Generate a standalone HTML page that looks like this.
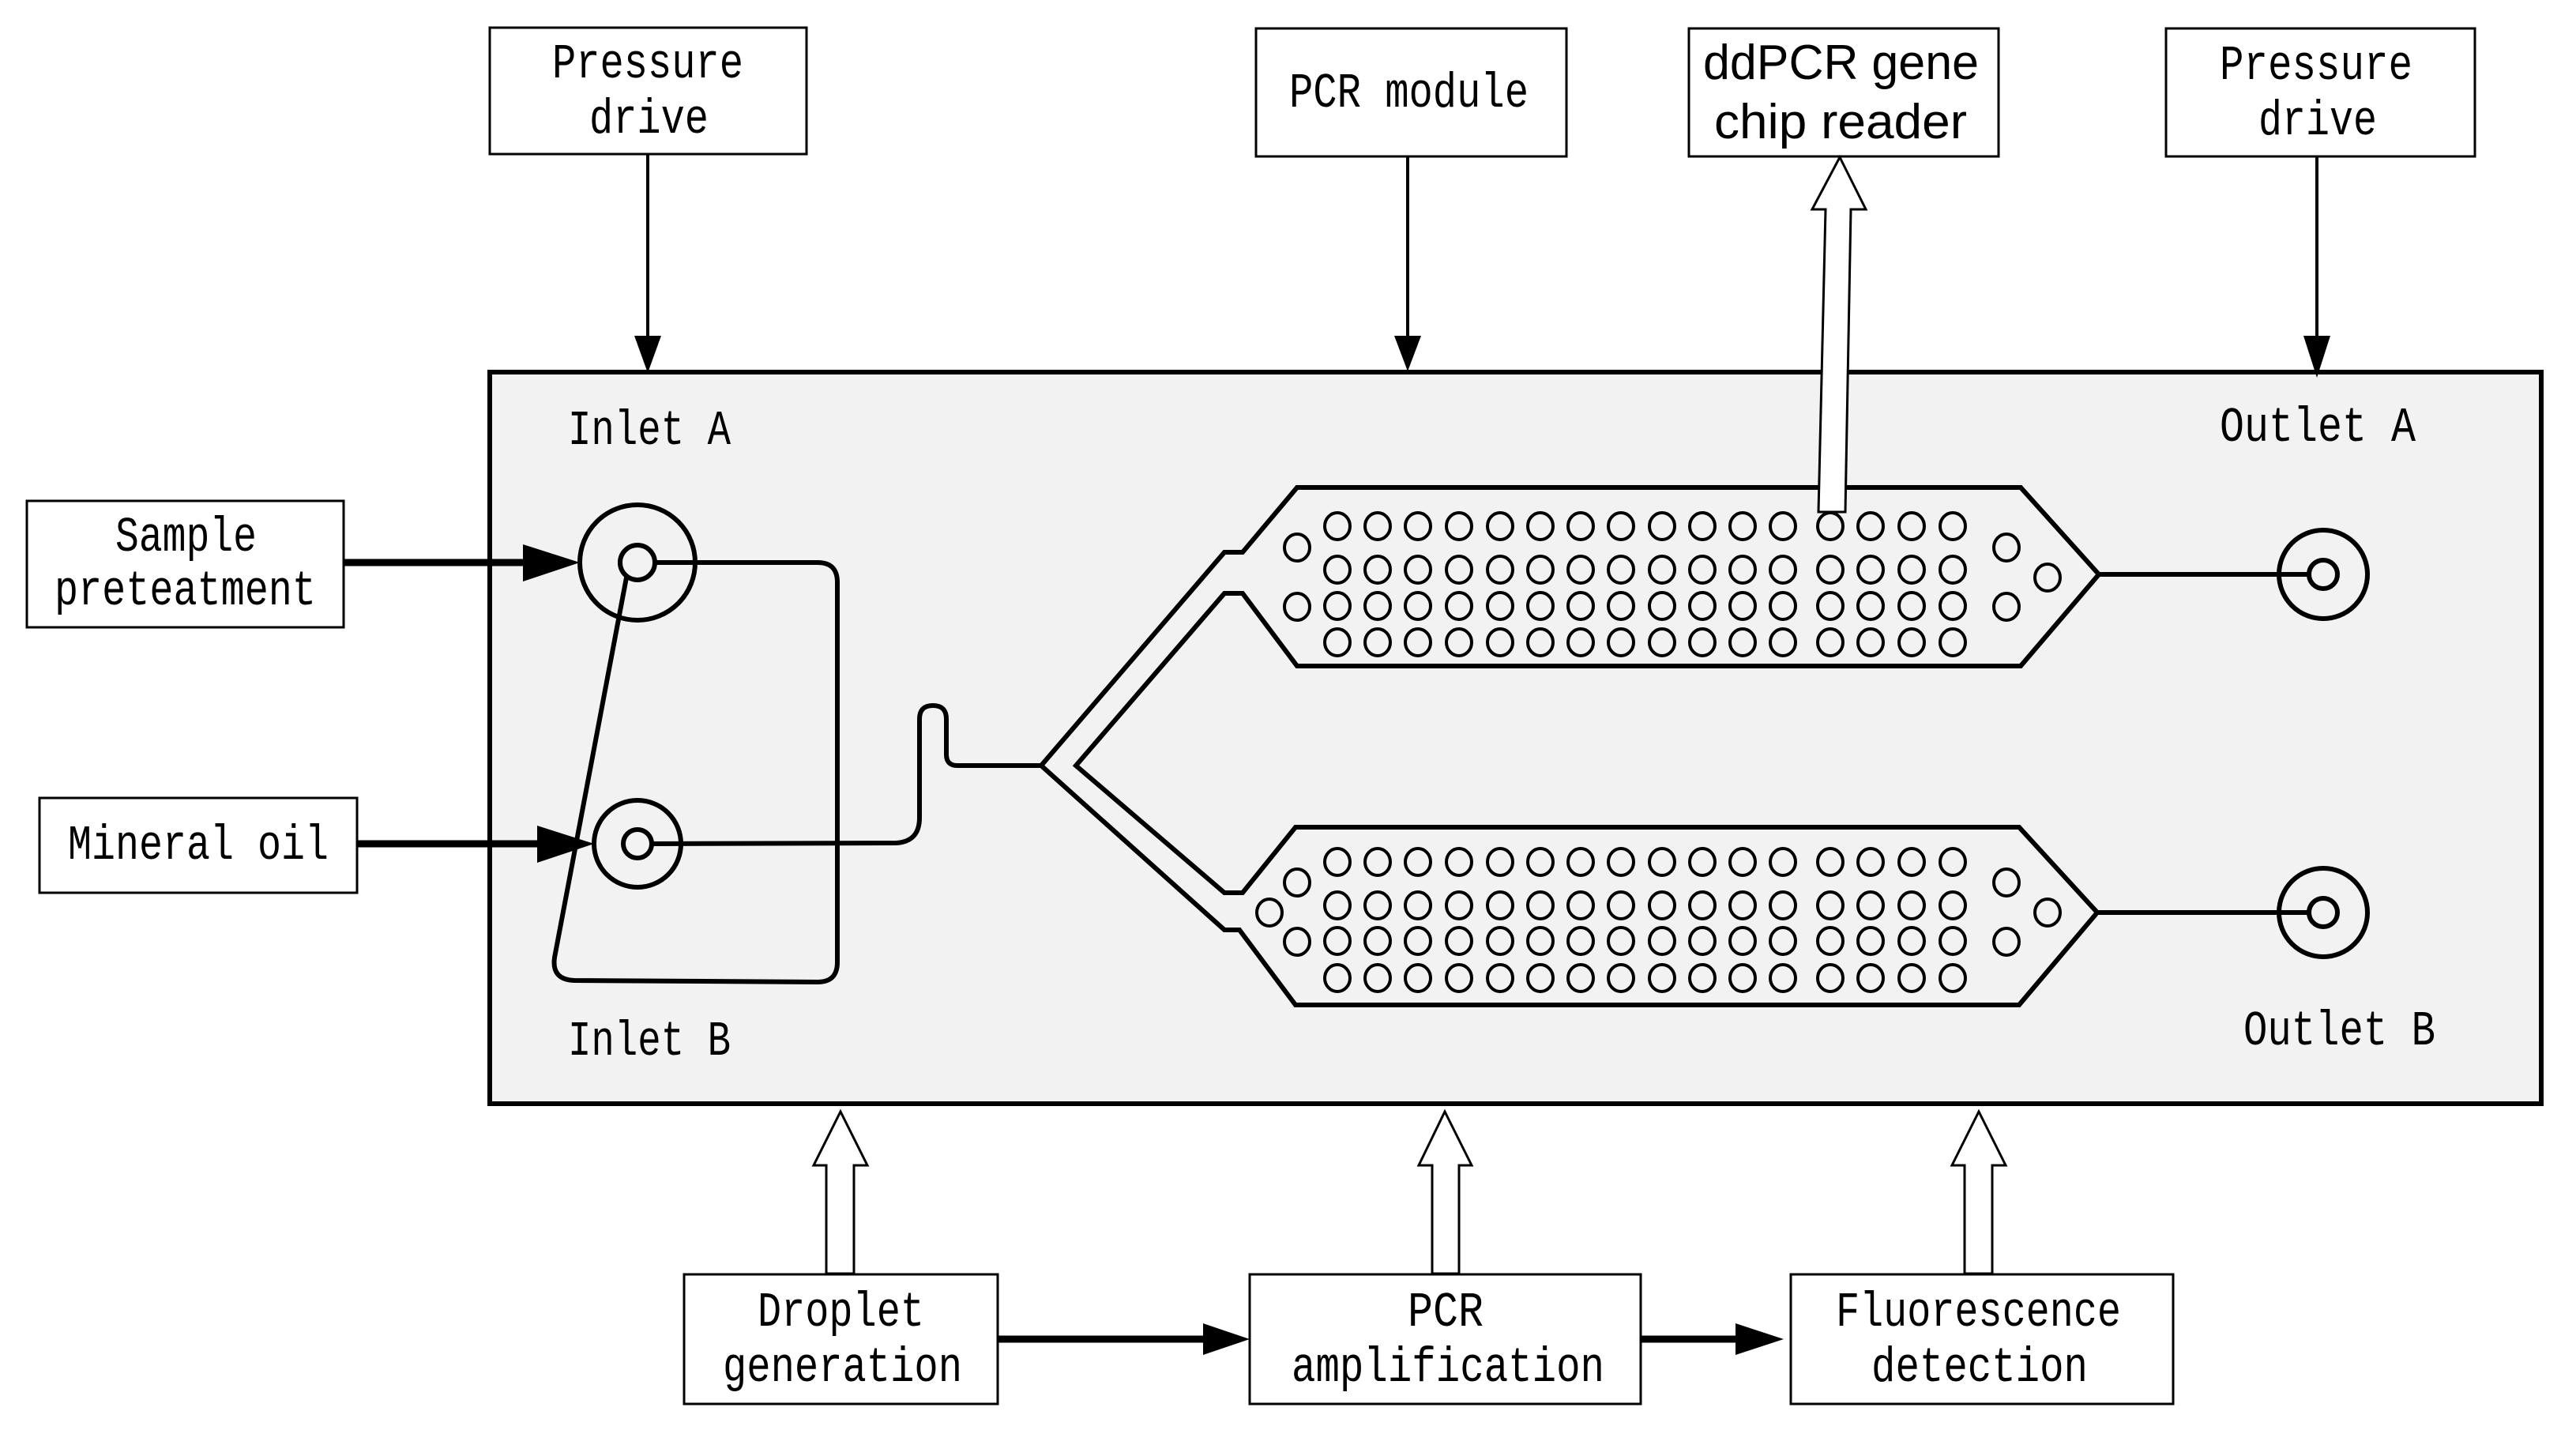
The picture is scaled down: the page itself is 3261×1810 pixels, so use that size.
<!DOCTYPE html>
<html><head><meta charset="utf-8"><style>
html,body{margin:0;padding:0;background:#fff;}
svg{display:block;}
text{font-family:"Liberation Mono",monospace;font-size:62px;fill:#000;}
.s{font-family:"Liberation Sans",sans-serif;}
</style></head><body>
<svg width="3261" height="1810" viewBox="0 0 3261 1810" xmlns="http://www.w3.org/2000/svg">
<defs>
<g id="row">
<ellipse cx="1693" cy="0" rx="16" ry="17"/><ellipse cx="1744" cy="0" rx="16" ry="17"/><ellipse cx="1795" cy="0" rx="16" ry="17"/><ellipse cx="1847" cy="0" rx="16" ry="17"/><ellipse cx="1899" cy="0" rx="16" ry="17"/><ellipse cx="1950" cy="0" rx="16" ry="17"/><ellipse cx="2001" cy="0" rx="16" ry="17"/><ellipse cx="2052" cy="0" rx="16" ry="17"/><ellipse cx="2104" cy="0" rx="16" ry="17"/><ellipse cx="2155" cy="0" rx="16" ry="17"/><ellipse cx="2206" cy="0" rx="16" ry="17"/><ellipse cx="2257" cy="0" rx="16" ry="17"/><ellipse cx="2317" cy="0" rx="16" ry="17"/><ellipse cx="2368" cy="0" rx="16" ry="17"/><ellipse cx="2420" cy="0" rx="16" ry="17"/><ellipse cx="2472" cy="0" rx="16" ry="17"/>
</g>
</defs>
<!-- main chip -->
<rect x="620" y="471" width="2597" height="926" fill="#f2f2f2" stroke="#000" stroke-width="6"/>

<!-- boxes -->
<g fill="#fff" stroke="#000" stroke-width="3">
<rect x="620" y="35" width="401" height="160"/>
<rect x="1590" y="36" width="393" height="162"/>
<rect x="2138" y="36" width="392" height="162"/>
<rect x="2742" y="36" width="391" height="162"/>
<rect x="34" y="634" width="401" height="160"/>
<rect x="50" y="1010" width="402" height="120"/>
<rect x="866" y="1613" width="397" height="164"/>
<rect x="1582" y="1613" width="495" height="164"/>
<rect x="2267" y="1613" width="484" height="164"/>
</g>

<!-- text -->
<text x="699" y="98" textLength="242" lengthAdjust="spacingAndGlyphs">Pressure</text>
<text x="746" y="168" textLength="151" lengthAdjust="spacingAndGlyphs">drive</text>
<text x="1632" y="135" textLength="303" lengthAdjust="spacingAndGlyphs">PCR module</text>
<text class="s" x="2156" y="100" textLength="349" lengthAdjust="spacingAndGlyphs" font-size="58">ddPCR gene</text>
<text class="s" x="2170" y="175" textLength="320" lengthAdjust="spacingAndGlyphs" font-size="58">chip reader</text>
<text x="2810" y="100" textLength="244" lengthAdjust="spacingAndGlyphs">Pressure</text>
<text x="2859" y="170" textLength="150" lengthAdjust="spacingAndGlyphs">drive</text>
<text x="146" y="697" textLength="179" lengthAdjust="spacingAndGlyphs">Sample</text>
<text x="69" y="765" textLength="331" lengthAdjust="spacingAndGlyphs">preteatment</text>
<text x="86" y="1087" textLength="330" lengthAdjust="spacingAndGlyphs">Mineral oil</text>
<text x="719" y="562" textLength="206" lengthAdjust="spacingAndGlyphs">Inlet A</text>
<text x="719" y="1335" textLength="206" lengthAdjust="spacingAndGlyphs">Inlet B</text>
<text x="2810" y="558" textLength="248" lengthAdjust="spacingAndGlyphs">Outlet A</text>
<text x="2840" y="1322" textLength="243" lengthAdjust="spacingAndGlyphs">Outlet B</text>
<text x="959" y="1678" textLength="211" lengthAdjust="spacingAndGlyphs">Droplet</text>
<text x="915" y="1748" textLength="303" lengthAdjust="spacingAndGlyphs">generation</text>
<text x="1782" y="1678" textLength="96" lengthAdjust="spacingAndGlyphs">PCR</text>
<text x="1635" y="1748" textLength="396" lengthAdjust="spacingAndGlyphs">amplification</text>
<text x="2324" y="1678" textLength="361" lengthAdjust="spacingAndGlyphs">Fluorescence</text>
<text x="2369" y="1748" textLength="274" lengthAdjust="spacingAndGlyphs">detection</text>

<!-- thin down arrows -->
<g stroke="#000" stroke-width="4">
<line x1="820" y1="195" x2="820" y2="430"/>
<line x1="1782" y1="198" x2="1782" y2="430"/>
<line x1="2933" y1="198" x2="2933" y2="430"/>
</g>
<g fill="#000">
<polygon points="803,425 837,425 820,472"/>
<polygon points="1765,425 1799,425 1782,470"/>
<polygon points="2916,425 2950,425 2933,478"/>
</g>

<!-- thick input arrows -->
<g stroke="#000" stroke-width="9">
<line x1="435" y1="712" x2="670" y2="712"/>
<line x1="452" y1="1068" x2="690" y2="1068"/>
<line x1="1263" y1="1695" x2="1530" y2="1695"/>
<line x1="2077" y1="1695" x2="2205" y2="1695"/>
</g>
<g fill="#000">
<polygon points="662,689 734,712 662,736"/>
<polygon points="680,1045 752,1068 680,1092"/>
<polygon points="1523,1675 1582,1695 1523,1715"/>
<polygon points="2197,1675 2258,1695 2197,1715"/>
</g>

<!-- inlets & channels -->
<g fill="none" stroke="#000" stroke-width="6" stroke-linejoin="miter">
<circle cx="807" cy="712" r="73"/>
<circle cx="807" cy="712" r="22"/>
<circle cx="807" cy="1068" r="55"/>
<circle cx="807" cy="1068" r="18"/>
<path d="M829,712 L1035,712 Q1060,712 1060,737 L1060,1218 Q1060,1243 1035,1243 L727,1241 Q698,1240 702,1212 L793,731"/>
<path d="M825,1068 L1135,1067 Q1164,1065 1164,1035 L1164,910 Q1164,893 1181,893 Q1198,893 1198,910 L1198,955 Q1198,969 1212,969 L1318,969"/>
<path d="M1318,969 L1550,699 L1573,699 L1642,617 L2558,617 L2657,727 L2558,843 L1642,843 L1573,751 L1550,751 L1362,969 L1550,1130 L1573,1130 L1640,1047 L2556,1047 L2655,1155 L2556,1272 L1640,1272 L1569,1177 L1550,1177 Z"/>
<line x1="2657" y1="727" x2="2923" y2="727"/>
<line x1="2655" y1="1155" x2="2923" y2="1155"/>
<circle cx="2941" cy="727" r="56"/>
<circle cx="2941" cy="727" r="18"/>
<circle cx="2941" cy="1155" r="56"/>
<circle cx="2941" cy="1155" r="18"/>
</g>

<!-- wells -->
<g fill="none" stroke="#000" stroke-width="4">
<use href="#row" y="666"/><use href="#row" y="721"/><use href="#row" y="767"/><use href="#row" y="813"/>
<use href="#row" y="1091"/><use href="#row" y="1146"/><use href="#row" y="1191"/><use href="#row" y="1238"/>
<ellipse cx="1642" cy="693" rx="16" ry="17"/><ellipse cx="1642" cy="768" rx="16" ry="17"/>
<ellipse cx="2540" cy="693" rx="16" ry="17"/><ellipse cx="2592" cy="731" rx="16" ry="17"/><ellipse cx="2540" cy="768" rx="16" ry="17"/>
<ellipse cx="1642" cy="1117" rx="16" ry="17"/><ellipse cx="1607" cy="1155" rx="16" ry="17"/><ellipse cx="1642" cy="1192" rx="16" ry="17"/>
<ellipse cx="2540" cy="1117" rx="16" ry="17"/><ellipse cx="2592" cy="1155" rx="16" ry="17"/><ellipse cx="2540" cy="1192" rx="16" ry="17"/>
</g>

<!-- hollow arrows -->
<g fill="#fff" stroke="#000" stroke-width="3">
<polygon points="2302,648 2311,265 2294,265 2329,199 2362,265 2343,265 2336,648"/>
<polygon points="1046,1612 1046,1475 1030,1475 1064,1407 1098,1475 1081,1475 1081,1612"/>
<polygon points="1813,1612 1813,1475 1796,1475 1829,1407 1863,1475 1847,1475 1847,1612"/>
<polygon points="2487,1612 2487,1475 2471,1475 2505,1407 2539,1475 2522,1475 2522,1612"/>
</g>
</svg>
</body></html>
